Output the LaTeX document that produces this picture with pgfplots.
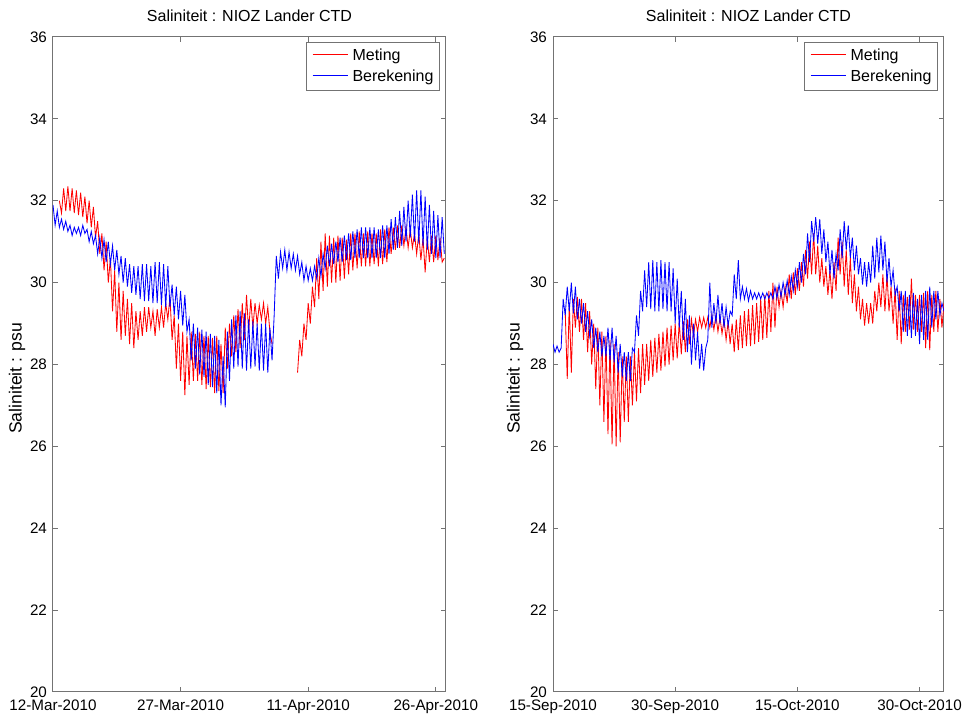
\documentclass[border=0pt]{standalone}
\usepackage{fontspec}
\setmainfont{Liberation Sans}
\usepackage{pgfplots}
\usepackage{pgfplotstable}
\pgfplotsset{compat=1.18}

% Left panel: Berekening (blue), day 0 = 12-Mar-2010, step 0.25 day
\pgfplotstableread[header=false,row sep=crcr]{
31.9\\31.4\\31.75\\31.35\\ 31.55\\31.3\\31.5\\31.25\\ 31.4\\31.15\\31.35\\31.2\\ 31.35\\31.15\\31.4\\31.2\\
31.3\\31.0\\31.25\\30.95\\ 31.15\\30.7\\31.1\\30.6\\ 31.05\\30.5\\31.0\\30.45\\ 30.9\\30.3\\30.8\\30.2\\
30.65\\30.0\\30.6\\29.9\\ 30.45\\29.75\\30.4\\29.7\\ 30.4\\29.6\\30.45\\29.55\\ 30.45\\29.55\\30.4\\29.5\\
30.5\\29.5\\30.5\\29.45\\ 30.45\\29.4\\30.4\\29.4\\ 29.95\\29.2\\29.9\\29.1\\ 29.8\\28.95\\29.7\\28.8\\
29.1\\28.1\\29.0\\27.9\\ 28.9\\27.75\\28.85\\27.7\\ 28.8\\27.5\\28.75\\27.45\\ 28.7\\27.3\\28.6\\27.0\\
28.2\\26.95\\28.8\\27.6\\ 29.1\\27.9\\29.2\\27.95\\ 29.3\\27.9\\29.25\\27.85\\ 29.1\\27.9\\29.05\\27.95\\
29.0\\27.85\\29.0\\27.85\\ 29.0\\27.8\\28.9\\28.1\\ 29.2\\30.65\\30.1\\30.75\\ 30.35\\30.8\\30.3\\30.75\\
30.35\\30.7\\30.3\\30.65\\ 30.2\\30.5\\30.05\\30.4\\ 30.05\\30.35\\30.05\\30.4\\ 30.1\\30.6\\30.15\\30.7\\
30.35\\30.9\\30.4\\30.95\\ 30.45\\31.0\\30.5\\31.1\\ 30.5\\31.15\\30.55\\31.2\\ 30.55\\31.25\\30.6\\31.3\\
30.6\\31.35\\30.6\\31.35\\ 30.6\\31.35\\30.6\\31.35\\ 30.6\\31.3\\30.6\\31.4\\ 30.6\\31.4\\30.7\\31.55\\
30.8\\31.6\\30.85\\31.75\\ 30.9\\31.85\\31.0\\32.0\\ 31.1\\32.15\\31.0\\32.25\\ 30.95\\32.25\\30.9\\32.1\\
30.8\\31.9\\30.7\\31.75\\ 30.6\\31.65\\30.6\\31.6\\ 30.7\\
}\BerLeft

% Left panel: Meting (red), part 1 starts at day 0.75
\pgfplotstableread[header=false,row sep=crcr]{
32.0\\ 31.7\\32.3\\31.75\\32.35\\ 31.75\\32.3\\31.7\\32.25\\ 31.65\\32.2\\31.6\\32.1\\ 31.45\\32.0\\31.35\\31.85\\
31.1\\31.5\\30.7\\31.2\\ 30.3\\31.0\\30.0\\30.6\\ 29.3\\30.3\\28.8\\30.0\\ 28.6\\29.8\\28.7\\29.6\\
28.5\\29.5\\28.4\\29.3\\ 28.6\\29.3\\28.7\\29.4\\ 28.8\\29.4\\28.9\\29.3\\ 28.7\\29.35\\28.9\\29.4\\
28.9\\29.5\\29.1\\29.65\\ 28.6\\29.2\\27.9\\29.0\\ 27.6\\28.8\\27.25\\28.7\\ 27.5\\28.8\\27.6\\28.75\\
27.6\\28.8\\27.5\\28.7\\ 27.4\\28.7\\27.45\\28.65\\ 27.3\\28.7\\27.35\\28.5\\ 27.3\\28.9\\27.9\\29.0\\
28.2\\29.2\\28.3\\29.35\\ 28.4\\29.5\\28.6\\29.7\\ 28.8\\29.6\\28.9\\29.5\\ 29.0\\29.45\\29.1\\29.5\\
29.0\\29.4\\28.8\\28.5\\
}\MetLeftA

% Left panel: Meting (red), part 2 starts at day 28.75
\pgfplotstableread[header=false,row sep=crcr]{
27.8\\ 28.6\\28.2\\29.0\\28.6\\ 29.5\\29.0\\29.9\\29.4\\ 30.6\\29.6\\31.0\\29.8\\ 31.2\\29.9\\31.15\\30.0\\
31.1\\30.0\\31.15\\30.05\\ 31.1\\30.1\\31.05\\30.2\\ 31.2\\30.3\\31.2\\30.35\\ 31.25\\30.4\\31.2\\30.4\\
31.25\\30.4\\31.2\\30.45\\ 31.2\\30.4\\31.3\\30.45\\ 31.3\\30.5\\31.35\\30.7\\ 31.35\\30.8\\31.4\\30.85\\
31.4\\30.9\\31.35\\30.85\\ 31.3\\30.85\\31.2\\30.7\\ 31.2\\30.55\\31.1\\30.25\\ 31.1\\30.5\\31.15\\30.5\\
31.15\\30.55\\31.1\\30.5\\ 30.6\\
}\MetLeftB

% Right panel: Berekening (blue), day 0 = 15-Sep-2010
\pgfplotstableread[header=false,row sep=crcr]{
28.5\\28.3\\28.45\\28.3\\ 28.4\\29.6\\29.2\\29.9\\ 29.3\\30.0\\29.25\\29.9\\ 29.1\\29.6\\29.0\\29.5\\
28.8\\29.3\\28.7\\29.1\\ 28.4\\28.9\\28.3\\28.8\\ 28.2\\28.7\\28.2\\28.9\\ 28.1\\28.9\\28.05\\28.7\\
27.8\\28.5\\27.7\\28.3\\ 27.6\\28.3\\27.6\\28.4\\ 28.3\\29.2\\28.7\\29.8\\ 29.3\\30.3\\29.4\\30.5\\
29.35\\30.55\\29.3\\30.5\\ 29.3\\30.55\\29.35\\30.5\\ 29.3\\30.5\\29.3\\30.35\\ 29.0\\30.1\\28.9\\29.8\\
28.6\\29.6\\28.3\\29.2\\ 28.0\\29.0\\28.1\\28.8\\ 27.9\\28.5\\27.85\\28.4\\ 28.6\\30.0\\28.9\\29.5\\
29.0\\29.7\\29.0\\29.5\\ 28.9\\29.4\\28.95\\29.3\\ 29.2\\30.2\\29.6\\30.55\\ 29.6\\29.9\\29.6\\29.85\\
29.55\\29.8\\29.6\\29.75\\ 29.6\\29.75\\29.6\\29.75\\ 29.6\\29.75\\29.62\\29.75\\ 29.6\\29.9\\29.62\\29.95\\
29.65\\30.0\\29.7\\30.05\\ 29.7\\30.15\\29.8\\30.3\\ 29.9\\30.5\\30.0\\30.7\\ 30.2\\31.2\\30.5\\31.5\\
31.0\\31.6\\30.95\\31.55\\ 30.7\\31.3\\30.5\\31.0\\ 30.2\\30.8\\30.1\\30.7\\ 30.3\\31.3\\30.6\\31.5\\
30.8\\31.4\\30.6\\31.1\\ 30.3\\30.9\\30.2\\30.6\\ 29.95\\30.5\\29.9\\30.5\\ 30.0\\30.9\\30.1\\31.1\\
30.25\\31.15\\30.3\\31.0\\ 30.0\\30.6\\29.9\\30.3\\ 29.7\\29.9\\29.3\\29.8\\ 28.8\\29.8\\28.7\\29.7\\
28.65\\29.75\\28.7\\29.6\\ 28.5\\29.7\\28.6\\29.8\\ 28.6\\29.9\\28.9\\29.8\\ 29.1\\29.8\\29.2\\29.5\\
29.3\\
}\BerRight

% Right panel: Meting (red), starts at day 1.5
\pgfplotstableread[header=false,row sep=crcr]{
29.3\\27.65\\ 29.5\\27.8\\29.6\\28.9\\ 29.65\\28.8\\29.6\\28.6\\ 29.5\\28.3\\29.3\\28.0\\
29.0\\27.4\\28.9\\27.0\\ 28.8\\26.6\\28.7\\26.3\\ 28.6\\26.05\\28.5\\26.0\\ 28.3\\26.1\\28.2\\26.6\\
28.2\\26.6\\28.2\\27.0\\ 28.3\\27.1\\28.4\\27.3\\ 28.5\\27.5\\28.5\\27.6\\ 28.6\\27.7\\28.65\\27.8\\
28.75\\27.85\\28.8\\27.95\\ 28.9\\28.0\\28.95\\28.1\\ 29.0\\28.15\\29.05\\28.25\\ 29.05\\28.3\\29.1\\28.5\\
29.1\\28.7\\29.1\\28.8\\ 29.15\\28.9\\29.15\\28.9\\ 29.15\\28.9\\29.2\\28.85\\ 29.2\\28.8\\29.15\\28.75\\
29.1\\28.6\\29.05\\28.5\\ 29.0\\28.3\\29.1\\28.35\\ 29.2\\28.4\\29.3\\28.45\\ 29.35\\28.45\\29.45\\28.5\\
29.5\\28.55\\29.6\\28.6\\ 29.7\\28.65\\29.8\\28.8\\ 30.0\\28.9\\29.9\\29.4\\ 29.8\\29.4\\29.9\\29.5\\
30.2\\29.6\\30.25\\29.7\\ 30.35\\29.8\\30.5\\29.9\\ 30.8\\30.1\\31.0\\30.2\\ 31.2\\30.2\\30.9\\30.0\\
30.6\\29.9\\30.4\\29.7\\ 30.3\\29.6\\30.5\\29.8\\ 31.1\\30.2\\31.0\\29.9\\ 30.8\\29.7\\30.6\\29.5\\
30.2\\29.3\\29.9\\29.1\\ 29.6\\28.95\\29.5\\29.0\\ 29.5\\29.0\\29.8\\29.3\\ 30.0\\29.4\\30.2\\29.3\\
30.2\\29.3\\29.9\\29.0\\ 29.85\\28.6\\29.8\\28.5\\ 29.7\\28.8\\29.65\\28.85\\ 30.1\\28.85\\29.7\\28.8\\
29.7\\28.8\\29.75\\28.4\\ 29.8\\28.35\\29.7\\28.8\\ 29.8\\28.8\\29.6\\28.9\\ 29.5\\
}\MetRight

\definecolor{axgray}{gray}{0.45}
\newcommand{\legline}[1]{\textcolor{#1}{\rule[0.33em]{17.5pt}{0.5pt}}\hspace{2.5pt}}

\pgfplotsset{
  mlab/.style={
    scale only axis,
    height=327.5pt,
    ymin=20, ymax=36, ytick={20,22,...,36},
    xmin=0,
    xtick={0,15,30,45},
    tick align=inside,
    tick pos=both,
    major tick length=2.6pt,
    axis line style={axgray, line width=0.5pt},
    every tick/.style={axgray, line width=0.5pt},
    tick label style={font=\fontsize{7.6}{8.5}\selectfont, black},
    /pgf/number format/assume math mode=true,
    yticklabel style={xshift=0.5pt},
    xticklabel style={yshift=-0.5pt},
    every axis title/.style={font=\fontsize{8}{9}\selectfont, at={(axis description cs:0.5,1)}, anchor=south, inner sep=0pt, yshift=7.7pt},
    ylabel={Saliniteit : psu},
    ylabel style={font=\fontsize{8.8}{10}\selectfont, anchor=center},
    legend style={draw=axgray, line width=0.5pt, fill=white, at={(axis description cs:1,1)}, anchor=north east,
      xshift=-3pt, yshift=-2.5pt, font=\fontsize{8}{9.5}\selectfont, inner xsep=1.5pt, inner ysep=1.5pt,
      row sep=0.3pt, column sep=0pt, nodes={anchor=west, inner sep=1.5pt}},
    legend cell align=left,
    every axis plot/.append style={line width=0.42pt},
  }
}

\begin{document}
\begin{tikzpicture}
\useasboundingbox (0,0) rectangle (483pt,358.5pt);
\begin{axis}[mlab,
  at={(26.5pt,12.5pt)}, anchor=south west,
  width=196.5pt, xmax=46.2,
  xticklabels={12-Mar-2010,27-Mar-2010,11-Apr-2010,26-Apr-2010},
  title={Saliniteit : NIOZ Lander CTD},
  every axis y label/.append style={at={(axis description cs:-0.0916,0.479)}},
]
\addlegendimage{empty legend}
\addlegendentry{\legline{red}Meting}
\addlegendimage{empty legend}
\addlegendentry{\legline{blue}Berekening}
\addplot[red, forget plot] table[x expr=\coordindex*0.25+0.75, y index=0] {\MetLeftA};
\addplot[red, forget plot] table[x expr=\coordindex*0.25+28.75, y index=0] {\MetLeftB};
\addplot[blue, forget plot] table[x expr=\coordindex*0.25, y index=0] {\BerLeft};
\end{axis}
\begin{axis}[mlab,
  at={(276.5pt,12.5pt)}, anchor=south west,
  width=195.5pt, xmax=48.0,
  xticklabels={15-Sep-2010,30-Sep-2010,15-Oct-2010,30-Oct-2010},
  title={Saliniteit : NIOZ Lander CTD},
  every axis y label/.append style={at={(axis description cs:-0.097,0.479)}},
]
\addlegendimage{empty legend}
\addlegendentry{\legline{red}Meting}
\addlegendimage{empty legend}
\addlegendentry{\legline{blue}Berekening}
\addplot[red, forget plot] table[x expr=\coordindex*0.25+1.5, y index=0] {\MetRight};
\addplot[blue, forget plot] table[x expr=\coordindex*0.25, y index=0] {\BerRight};
\end{axis}
\end{tikzpicture}
\end{document}
